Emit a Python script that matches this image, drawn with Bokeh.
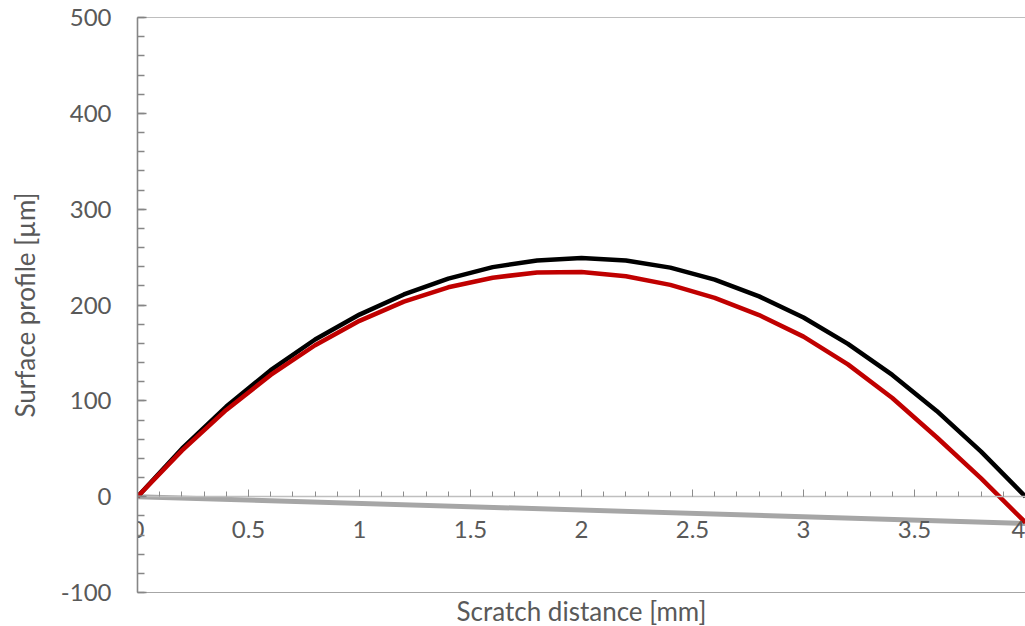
import numpy as np
from bokeh.plotting import figure
from bokeh.models import Range1d, LinearAxis, FixedTicker, Span
from bokeh.embed import file_html
from bokeh.resources import INLINE

# ---- data ----
distance_mm = [0.0, 0.2, 0.4, 0.6, 0.8, 1.0, 1.2, 1.4, 1.6, 1.8, 2.0,
               2.2, 2.4, 2.6, 2.8, 3.0, 3.2, 3.4, 3.6, 3.8, 4.0]
profile_black = [0, 50, 94, 132, 164, 190, 211, 227.5, 239.5, 246.5, 249,
                 246.5, 239, 226.5, 209, 187, 159.5, 127, 89.5, 47, 0]
profile_red = [0, 48, 90.5, 127, 158, 183.5, 203.5, 218.5, 228.5, 234, 234.5,
               230, 221, 207.5, 189.5, 167, 138, 103, 62, 19, -27]
baseline_x = [0.0, 4.0]
baseline_y = [0.0, -28.0]

x_ticks = [0, 0.5, 1, 1.5, 2, 2.5, 3, 3.5, 4]
x_tick_labels = ["0", "0.5", "1", "1.5", "2", "2.5", "3", "3.5", "4"]
y_ticks = [-100, 0, 100, 200, 300, 400, 500]
y_tick_labels = ["-100", "0", "100", "200", "300", "400", "500"]

FONT = "Lato"
TXT = "#595959"

p = figure(frame_width=888, frame_height=575,
           x_range=Range1d(0, 4), y_range=Range1d(-100, 500),
           output_backend="svg", toolbar_location=None,
           min_border_left=137, min_border_top=17, min_border_right=0,
           min_border_bottom=30, background_fill_color="white")
p.outline_line_color = None
p.grid.visible = False

# data lines
p.line(baseline_x, baseline_y, line_color="#A6A6A6", line_width=5)
p.line(distance_mm, profile_black, line_color="#000000", line_width=4.5,
       line_join="round")
p.line(distance_mm, profile_red, line_color="#C00000", line_width=4.5,
       line_join="round")

# top border
p.add_layout(Span(location=500, dimension="width", line_color="#7F7F7F", line_width=1.2))

# x axis crossing at y = 0
xa = p.xaxis[0]
xa.fixed_location = 0
xa.ticker = FixedTicker(ticks=x_ticks,
                        minor_ticks=list(np.round(np.arange(0, 4.001, 0.1), 1)))
xa.major_label_overrides = {t: l for t, l in zip(x_ticks, x_tick_labels)}
xa.axis_line_color = "#BFBFBF"
xa.axis_line_width = 1.5
xa.major_tick_line_color = "#8C8C8C"
xa.minor_tick_line_color = "#8C8C8C"
xa.major_tick_in = 7
xa.major_tick_out = 0
xa.minor_tick_in = 5
xa.minor_tick_out = 0
xa.major_label_standoff = 24
xa.major_label_text_font = FONT
xa.major_label_text_font_size = "24px"
xa.major_label_text_color = TXT

# bottom axis carrying only the title
xb = LinearAxis(ticker=FixedTicker(ticks=[]), axis_label="Scratch distance [mm]")
xb.axis_line_color = "#A6A6A6"
xb.axis_line_width = 1
xb.major_tick_line_color = None
xb.minor_tick_line_color = None
xb.major_label_text_font_size = "0px"
xb.axis_label_standoff = 2
xb.axis_label_text_font = FONT
xb.axis_label_text_font_size = "26px"
xb.axis_label_text_font_style = "normal"
xb.axis_label_text_color = TXT
p.add_layout(xb, "below")

# y axis
ya = p.yaxis[0]
ya.ticker = FixedTicker(ticks=y_ticks, minor_ticks=list(range(-100, 501, 20)))
ya.major_label_overrides = {t: l for t, l in zip(y_ticks, y_tick_labels)}
ya.axis_line_color = "#868686"
ya.axis_line_width = 1.6
ya.major_tick_line_color = "#868686"
ya.minor_tick_line_color = "#868686"
ya.major_tick_line_width = 1.3
ya.minor_tick_line_width = 1.3
ya.major_tick_in = 9
ya.major_tick_out = 0
ya.minor_tick_in = 7
ya.minor_tick_out = 0
ya.major_label_standoff = 26
ya.major_label_text_font = FONT
ya.major_label_text_font_size = "24px"
ya.major_label_text_color = TXT
ya.axis_label = "Surface profile [µm]"
ya.axis_label_standoff = 17
ya.axis_label_text_font = FONT
ya.axis_label_text_font_size = "26px"
ya.axis_label_text_font_style = "normal"
ya.axis_label_text_color = TXT

open("out.html", "w").write(file_html(p, INLINE))
